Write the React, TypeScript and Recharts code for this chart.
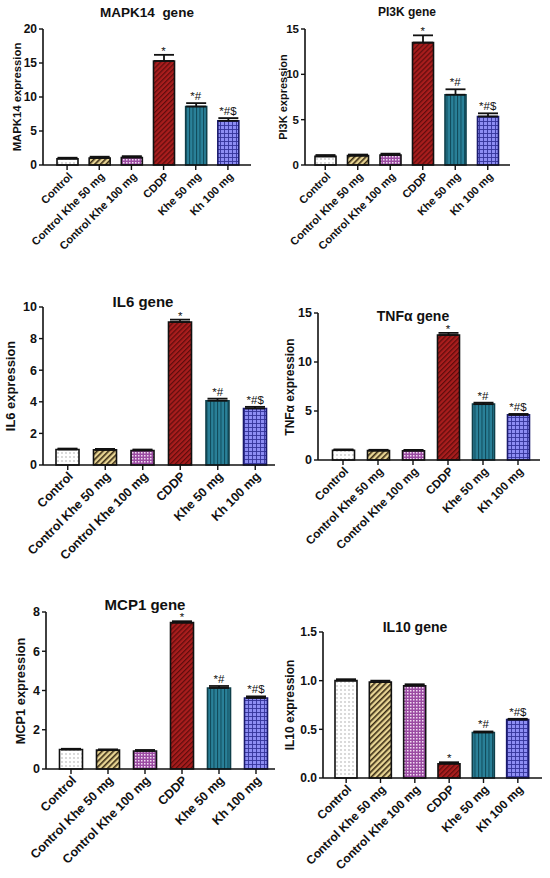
import React from "react";
import {
  BarChart,
  Bar,
  XAxis,
  YAxis,
  Cell,
  ErrorBar,
  ReferenceDot,
} from "recharts";

const categories = [
  "Control",
  "Control Khe 50 mg",
  "Control Khe 100 mg",
  "CDDP",
  "Khe 50 mg",
  "Kh 100 mg",
];
const marks = ["", "", "", "*", "*#", "*#$"];

const mapk14Values = [0.92, 1.02, 1.1, 15.3, 8.6, 6.5];
const mapk14Errors = [0.15, 0.2, 0.2, 0.9, 0.5, 0.4];
const mapk14Ticks = [0, 5, 10, 15, 20];

const pi3kValues = [0.95, 1.03, 1.1, 13.5, 7.75, 5.35];
const pi3kErrors = [0.15, 0.12, 0.15, 0.8, 0.6, 0.35];
const pi3kTicks = [0, 5, 10, 15];

const il6Values = [0.98, 0.96, 0.92, 9.05, 4.07, 3.58];
const il6Errors = [0.06, 0.06, 0.06, 0.15, 0.13, 0.1];
const il6Ticks = [0, 2, 4, 6, 8, 10];

const tnfValues = [1.0, 0.96, 0.95, 12.75, 5.7, 4.6];
const tnfErrors = [0.08, 0.08, 0.08, 0.22, 0.15, 0.1];
const tnfTicks = [0, 5, 10, 15];

const mcp1Values = [0.99, 0.96, 0.92, 7.46, 4.13, 3.62];
const mcp1Errors = [0.04, 0.04, 0.05, 0.07, 0.1, 0.08];
const mcp1Ticks = [0, 2, 4, 6, 8];

const il10Values = [1.0, 0.985, 0.948, 0.147, 0.468, 0.6];
const il10Errors = [0.015, 0.015, 0.015, 0.015, 0.01, 0.008];
const il10Ticks = [0, 0.5, 1.0, 1.5];

const FONT = "Arial, 'Liberation Sans', Helvetica, sans-serif";
const fills = [
  "url(#pDots)",
  "url(#pTan)",
  "url(#pPurple)",
  "url(#pRed)",
  "url(#pTeal)",
  "url(#pBlue)",
];
const strokes = ["#111", "#111", "#111", "#111", "#0f3f4a", "#1b1b6e"];

function Patterns() {
  return (
    <svg width={0} height={0} style={{ position: "absolute" }}>
      <defs>
        <pattern id="pDots" width={4} height={4} patternUnits="userSpaceOnUse">
          <rect width={4} height={4} fill="#fff" />
          <circle cx={2} cy={2} r={0.7} fill="#9a9a9a" />
        </pattern>
        <pattern id="pTan" width={4} height={4} patternUnits="userSpaceOnUse" patternTransform="rotate(45)">
          <rect width={4} height={4} fill="#e8d594" />
          <rect width={1.6} height={4} fill="#3a2c14" />
        </pattern>
        <pattern id="pPurple" width={3} height={3} patternUnits="userSpaceOnUse">
          <rect width={3} height={3} fill="#9b4ba2" />
          <rect width={1.5} height={1.5} fill="#f2dcf2" />
        </pattern>
        <pattern id="pRed" width={3.5} height={3.5} patternUnits="userSpaceOnUse" patternTransform="rotate(45)">
          <rect width={3.5} height={3.5} fill="#a81d1d" />
          <rect width={1.2} height={3.5} fill="#5e0c0c" />
        </pattern>
        <pattern id="pTeal" width={3.5} height={4} patternUnits="userSpaceOnUse">
          <rect width={3.5} height={4} fill="#2a8199" />
          <rect width={1} height={4} fill="#0f4858" />
        </pattern>
        <pattern id="pBlue" width={4} height={4} patternUnits="userSpaceOnUse">
          <rect width={4} height={4} fill="#8d8df3" />
          <rect width={4} height={0.9} fill="#34349a" />
          <rect width={0.9} height={4} fill="#34349a" />
        </pattern>
      </defs>
    </svg>
  );
}

function AngledTick(props: any) {
  const { x, y, payload, fontSize } = props;
  return (
    <g transform={`translate(${x + 6},${y + 5})`}>
      <text
        textAnchor="end"
        transform="rotate(-45)"
        fontSize={fontSize}
        fontWeight="bold"
        fontFamily={FONT}
        fill="#111"
      >
        {payload.value}
      </text>
    </g>
  );
}

interface PanelProps {
  title: string;
  yLabel: string;
  values: number[];
  errors: number[];
  ticks: number[];
  col: number;
  plot: { l: number; t: number; r: number; b: number };
  padL: number;
  padR: number;
  barSize: number;
  titlePos: [number, number];
  titleSize: number;
  yLabelX: number;
  yLabelSize: number;
  xFont: number;
  yFont: number;
  fixed?: number;
}

function Panel(p: PanelProps) {
  const x0 = p.col * 275;
  const y0 = p.plot.t - 20;
  const xAxisH = 110;
  const width = 275;
  const height = p.plot.b - y0 + xAxisH;
  const data = categories.map((name, i) => ({
    name,
    value: p.values[i],
    err: [0, p.errors[i]],
  }));
  const yMid = (p.plot.t + p.plot.b) / 2;
  return (
    <>
      <div
        style={{
          position: "absolute",
          left: p.titlePos[0],
          top: p.titlePos[1],
          transform: "translate(-50%, -50%)",
          fontFamily: FONT,
          fontWeight: "bold",
          fontSize: p.titleSize,
          whiteSpace: "pre",
          color: "#111",
          zIndex: 2,
        }}
      >
        {p.title}
      </div>
      <div
        style={{
          position: "absolute",
          left: p.yLabelX,
          top: yMid,
          transform: "translate(-50%, -50%) rotate(-90deg)",
          fontFamily: FONT,
          fontWeight: "bold",
          fontSize: p.yLabelSize,
          whiteSpace: "nowrap",
          color: "#111",
        }}
      >
        {p.yLabel}
      </div>
      <div style={{ position: "absolute", left: x0, top: y0 }}>
        <BarChart
          width={width}
          height={height}
          data={data}
          margin={{ top: p.plot.t - y0, left: 0, right: x0 + width - p.plot.r, bottom: 0 }}
          barCategoryGap={0}
        >
          <XAxis
            dataKey="name"
            height={xAxisH}
            interval={0}
            padding={{ left: p.padL, right: p.padR }}
            axisLine={{ stroke: "#111", strokeWidth: 1.6 }}
            tickLine={{ stroke: "#111", strokeWidth: 1.4 }}
            tickSize={5}
            tickMargin={2}
            tick={(tp: any) => <AngledTick {...tp} fontSize={p.xFont} />}
          />
          <YAxis
            width={p.plot.l - x0}
            domain={[0, p.ticks[p.ticks.length - 1]]}
            ticks={p.ticks}
            interval={0}
            axisLine={{ stroke: "#111", strokeWidth: 1.6 }}
            tickLine={{ stroke: "#111", strokeWidth: 1.4 }}
            tickSize={4}
            tickMargin={2}
            tickFormatter={(v: number) => (p.fixed ? v.toFixed(p.fixed) : String(v))}
            tick={{ fill: "#111", fontSize: p.yFont, fontWeight: "bold", fontFamily: FONT }}
          />
          <Bar dataKey="value" barSize={p.barSize} isAnimationActive={false} strokeWidth={1.6}>
            {data.map((d, i) => (
              <Cell key={d.name} fill={fills[i]} stroke={strokes[i]} />
            ))}
            <ErrorBar dataKey="err" width={10} stroke="#111" strokeWidth={1.8} direction="y" />
          </Bar>
          {categories.map((c, i) =>
            marks[i] ? (
              <ReferenceDot
                key={c}
                x={c}
                y={p.values[i] + p.errors[i]}
                r={0}
                fill="none"
                stroke="none"
                label={{
                  value: marks[i],
                  position: "top",
                  offset: marks[i].length > 1 ? 3 : 0,
                  fontSize: 11.5,
                  fill: "#111",
                  fontFamily: FONT,
                }}
              />
            ) : null
          )}
        </BarChart>
      </div>
    </>
  );
}

export default function App() {
  return (
    <div
      style={{
        position: "absolute",
        left: 0,
        top: 0,
        width: 550,
        height: 878,
        background: "#fff",
        overflow: "hidden",
      }}
    >
      <Patterns />
      <Panel
        title={"MAPK14  gene"}
        yLabel="MAPK14 expression"
        values={mapk14Values}
        errors={mapk14Errors}
        ticks={mapk14Ticks}
        col={0}
        plot={{ l: 43, t: 29, r: 251, b: 165 }}
        padL={8}
        padR={7}
        barSize={21}
        titlePos={[147, 12]}
        titleSize={13.5}
        yLabelX={17}
        yLabelSize={11.3}
        xFont={11}
        yFont={12}
      />
      <Panel
        title="PI3K gene"
        yLabel="PI3K expression"
        values={pi3kValues}
        errors={pi3kErrors}
        ticks={pi3kTicks}
        col={1}
        plot={{ l: 305, t: 29, r: 510, b: 165 }}
        padL={4}
        padR={6}
        barSize={21}
        titlePos={[407, 12]}
        titleSize={12}
        yLabelX={283}
        yLabelSize={11}
        xFont={11}
        yFont={11.5}
      />
      <Panel
        title="IL6 gene"
        yLabel="IL6 expression"
        values={il6Values}
        errors={il6Errors}
        ticks={il6Ticks}
        col={0}
        plot={{ l: 43, t: 307, r: 275, b: 465 }}
        padL={6}
        padR={1}
        barSize={23}
        titlePos={[143, 301]}
        titleSize={15}
        yLabelX={10}
        yLabelSize={12.9}
        xFont={12.5}
        yFont={12.5}
      />
      <Panel
        title="TNFα gene"
        yLabel="TNFα expression"
        values={tnfValues}
        errors={tnfErrors}
        ticks={tnfTicks}
        col={1}
        plot={{ l: 318, t: 313, r: 540, b: 460 }}
        padL={7.5}
        padR={4.5}
        barSize={22}
        titlePos={[413, 316]}
        titleSize={14}
        yLabelX={290}
        yLabelSize={12}
        xFont={11.7}
        yFont={12.5}
      />
      <Panel
        title="MCP1 gene"
        yLabel="MCP1 expression"
        values={mcp1Values}
        errors={mcp1Errors}
        ticks={mcp1Ticks}
        col={0}
        plot={{ l: 46, t: 612, r: 275, b: 769 }}
        padL={6.5}
        padR={0.5}
        barSize={23}
        titlePos={[145, 604]}
        titleSize={15}
        yLabelX={20}
        yLabelSize={12.8}
        xFont={12.5}
        yFont={12.5}
      />
      <Panel
        title="IL10 gene"
        yLabel="IL10 expression"
        values={il10Values}
        errors={il10Errors}
        ticks={il10Ticks}
        col={1}
        plot={{ l: 323, t: 632, r: 542, b: 778 }}
        padL={6}
        padR={7}
        barSize={22}
        titlePos={[415, 627]}
        titleSize={14}
        yLabelX={290}
        yLabelSize={12}
        xFont={12}
        yFont={12}
        fixed={1}
      />
    </div>
  );
}
